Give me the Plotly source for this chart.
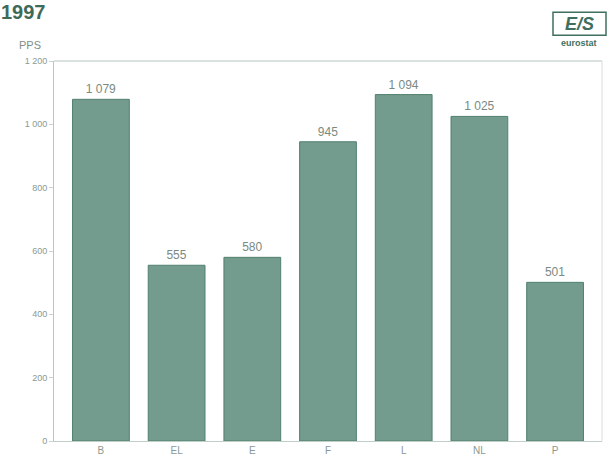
import plotly.graph_objects as go

categories = ["B", "EL", "E", "F", "L", "NL", "P"]
values = [1079, 555, 580, 945, 1094, 1025, 501]
y_ticks = [0, 200, 400, 600, 800, 1000, 1200]

W, H = 611, 465
ml, mr, mt, mb = 54, 9, 61, 22
pw, ph = W - ml - mr, H - mt - mb

def px(x):
    return (x - ml) / pw

def py(y):
    return 1 + (mt - y) / ph

fig = go.Figure(go.Bar(
    x=categories, y=values, width=0.75,
    marker=dict(color="#739b8e", line=dict(color="#52806e", width=1)),
    text=values, texttemplate="%{y:,}", textposition="outside",
    textfont=dict(family="Liberation Sans, Arial", size=12, color="#7a8a83"),
    cliponaxis=False,
))

fig.update_layout(
    width=W, height=H, margin=dict(l=ml, r=mr, t=mt, b=mb),
    paper_bgcolor="white", plot_bgcolor="white",
    separators=". ", showlegend=False, bargap=0.25,
    xaxis=dict(range=[-0.62, 6.62], showline=True, linecolor="#bfcfc8", linewidth=1,
               mirror=False, ticks="", showgrid=False,
               tickfont=dict(family="Liberation Sans, Arial", size=10, color="#8a9a92")),
    yaxis=dict(range=[0, 1200], tickvals=y_ticks, tickformat=",", showline=True,
               linecolor="#9fd4c0", linewidth=1, ticks="outside", ticklen=4,
               tickcolor="#c8d4cf", showgrid=False, zeroline=False,
               tickfont=dict(family="Liberation Sans, Arial", size=9, color="#8a9a92")),
    shapes=[
        dict(type="line", xref="paper", yref="paper", x0=0, x1=1, y0=1, y1=1,
             line=dict(color="#b8c4bf", width=1)),
        dict(type="line", xref="paper", yref="paper", x0=1, x1=1, y0=0, y1=1,
             line=dict(color="#d8dedb", width=1)),
        dict(type="rect", xref="paper", yref="paper", x0=px(553), x1=px(606),
             y0=py(35), y1=py(12), line=dict(color="#3f6f5f", width=1.5)),
    ],
    annotations=[
        dict(text="<b>1997</b>", xref="paper", yref="paper", x=px(0), y=py(0),
             xanchor="left", yanchor="top", showarrow=False, borderpad=0,
             font=dict(family="Liberation Sans, Arial", size=20, color="#3e6a5a")),
        dict(text="PPS", xref="paper", yref="paper", x=px(17), y=py(45),
             xanchor="left", yanchor="middle", showarrow=False,
             font=dict(family="Liberation Sans, Arial", size=11, color="#7f8f88")),
        dict(text="<b><i>E/S</i></b>", xref="paper", yref="paper", x=px(579), y=py(24),
             xanchor="center", yanchor="middle", showarrow=False,
             font=dict(family="Liberation Sans, Arial", size=18, color="#3f6f5f")),
        dict(text="<b>eurostat</b>", xref="paper", yref="paper", x=px(579), y=py(43),
             xanchor="center", yanchor="middle", showarrow=False,
             font=dict(family="Liberation Sans, Arial", size=9, color="#3f6f5f")),
    ],
)

fig.write_html("out.html")
